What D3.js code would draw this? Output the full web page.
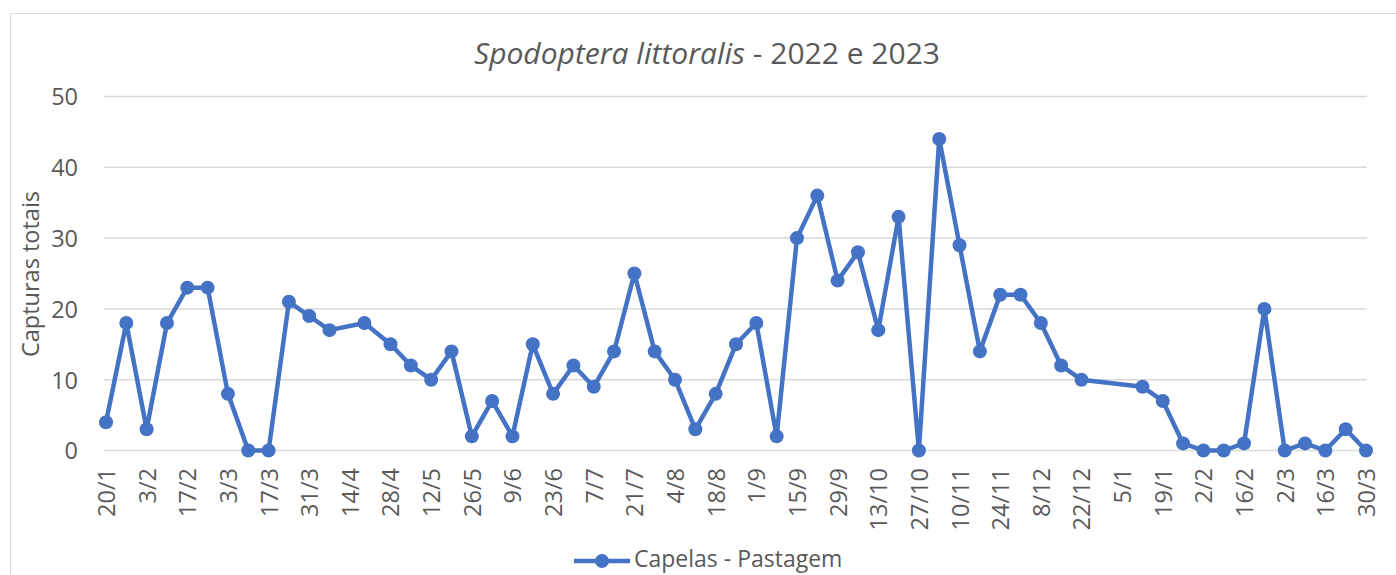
<!DOCTYPE html>
<html><head><meta charset="utf-8">
<script src="https://cdn.jsdelivr.net/npm/d3@7"></script>
<style>
html,body{margin:0;padding:0;background:#fff;overflow:hidden}
text{font-family:"Open Sans",sans-serif;fill:#595959}
</style></head>
<body><svg id="c" width="1396" height="575"></svg>
<script>
// Sampling dates (d/m/yyyy) and captures
const dates = ["20/1/2022","27/1/2022","3/2/2022","10/2/2022","17/2/2022","24/2/2022","3/3/2022","10/3/2022","17/3/2022","24/3/2022","31/3/2022","7/4/2022","19/4/2022","28/4/2022","5/5/2022","12/5/2022","19/5/2022","26/5/2022","2/6/2022","9/6/2022","16/6/2022","23/6/2022","30/6/2022","7/7/2022","14/7/2022","21/7/2022","28/7/2022","4/8/2022","11/8/2022","18/8/2022","25/8/2022","1/9/2022","8/9/2022","15/9/2022","22/9/2022","29/9/2022","6/10/2022","13/10/2022","20/10/2022","27/10/2022","3/11/2022","10/11/2022","17/11/2022","24/11/2022","1/12/2022","8/12/2022","15/12/2022","22/12/2022","12/1/2023","19/1/2023","26/1/2023","2/2/2023","9/2/2023","16/2/2023","23/2/2023","2/3/2023","9/3/2023","16/3/2023","23/3/2023","30/3/2023"];
const captures = [4,18,3,18,23,23,8,0,0,21,19,17,18,15,12,10,14,2,7,2,15,8,12,9,14,25,14,10,3,8,15,18,2,30,36,24,28,17,33,0,44,29,14,22,22,18,12,10,9,7,1,0,0,1,20,0,1,0,3,0];
const yTicks = [0,10,20,30,40,50];
const seriesName = "Capelas - Pastagem";
const titleItalic = "Spodoptera littoralis";
const titleRest = " - 2022 e 2023";
const yLabel = "Capturas totais";

const parse = s => { const [d,m,y] = s.split("/").map(Number); return new Date(y, m-1, d); };
const data = dates.map((s,i)=>({date:parse(s), v:captures[i]}));
const xTickDates = d3.timeDay.range(parse("20/1/2022"), d3.timeDay.offset(parse("30/3/2023"),1), 14);

const svg = d3.select("#c");
const color = "#4472C4";
const FONT = "'Open Sans',sans-serif";
// chart border
svg.append("rect").attr("x",10.5).attr("y",13.5).attr("width",1400).attr("height",600)
  .attr("fill","none").attr("stroke","#d9d9d9").attr("stroke-width",1);

const x = d3.scaleTime().domain([parse("20/1/2022"), parse("30/3/2023")]).range([106,1366]);
const y = d3.scaleLinear().domain([0,50]).range([450.5,96.5]);

// gridlines
svg.append("g").selectAll("line").data(yTicks).join("line")
  .attr("x1",104).attr("x2",1367).attr("y1",d=>y(d)).attr("y2",d=>y(d))
  .attr("stroke","#d9d9d9").attr("stroke-width",1.5);

// y axis labels
const yAxis = d3.axisLeft(y).tickValues(yTicks).tickSize(0).tickPadding(0);
const gy = svg.append("g").attr("transform","translate(78,0)").call(yAxis);
gy.select(".domain").remove();
gy.selectAll("text").attr("font-size",23.5).attr("dy","0.36em").style("fill","#595959").style("font-family",FONT);

// x axis labels
const xAxis = d3.axisBottom(x).tickValues(xTickDates).tickFormat(d=>`${d.getDate()}/${d.getMonth()+1}`).tickSize(0).tickPadding(0);
const gx = svg.append("g").attr("transform","translate(0,468)").call(xAxis);
gx.select(".domain").remove();
gx.selectAll("text").attr("font-size",23.5).attr("transform","rotate(-90)")
  .attr("text-anchor","end").attr("x",0).attr("y",0).attr("dx",0).attr("dy","0.36em")
  .style("fill","#595959").style("font-family",FONT);

// line
svg.append("path").datum(data).attr("fill","none").attr("stroke",color)
  .attr("stroke-width",4.5).attr("stroke-linejoin","round")
  .attr("d", d3.line().x(d=>x(d.date)).y(d=>y(d.v)));
svg.append("g").selectAll("circle").data(data).join("circle")
  .attr("cx",d=>x(d.date)).attr("cy",d=>y(d.v)).attr("r",7).attr("fill",color);

// title
const t = svg.append("text").attr("x",707).attr("y",64).attr("text-anchor","middle").attr("font-size",30);
t.append("tspan").attr("font-style","italic").text(titleItalic);
t.append("tspan").text(titleRest);

// y label
svg.append("text").attr("transform","translate(39,274) rotate(-90)").attr("text-anchor","middle")
  .attr("font-size",23.5).text(yLabel);

// legend
svg.append("line").attr("x1",574).attr("x2",630).attr("y1",561).attr("y2",561).attr("stroke",color).attr("stroke-width",4.5);
svg.append("circle").attr("cx",602).attr("cy",561).attr("r",7).attr("fill",color);
svg.append("text").attr("x",634).attr("y",567).attr("font-size",23).text(seriesName);
</script></body></html>
